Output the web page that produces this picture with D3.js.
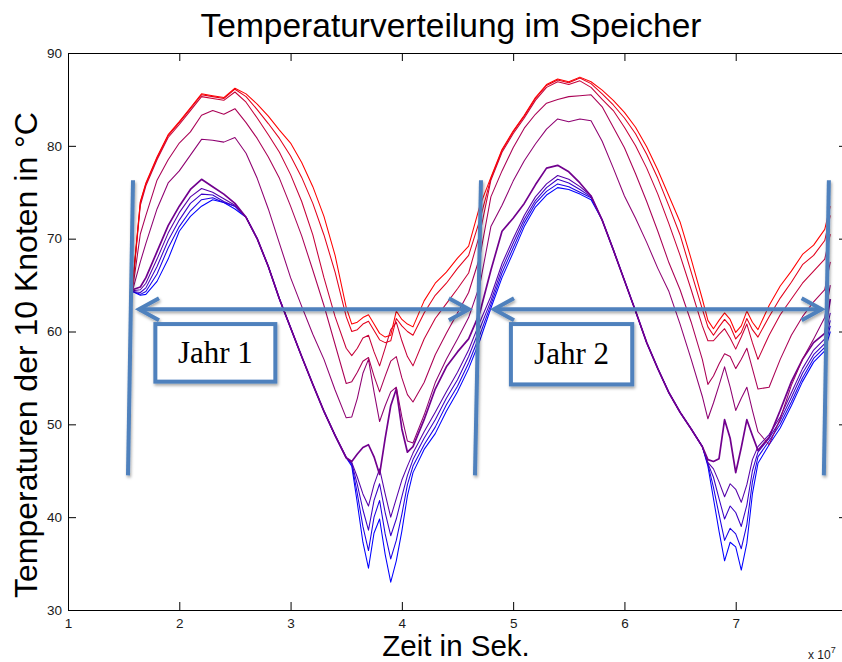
<!DOCTYPE html>
<html>
<head>
<meta charset="utf-8">
<script src="https://cdn.jsdelivr.net/npm/d3@7"></script>
<style>
  html, body { margin: 0; padding: 0; background: #ffffff; }
  svg { display: block; }
</style>
</head>
<body>
<svg id="chart" width="842" height="662"></svg>
<script>
// Simulation time (in units of 1e7 s) shared by all storage nodes
const timeE7 = [1.58, 1.65, 1.7, 1.8, 1.9, 2.0, 2.1, 2.2, 2.3, 2.4, 2.5, 2.6, 2.7, 2.8, 2.9, 3.0, 3.1, 3.2, 3.3, 3.4, 3.5,
  3.55, 3.6, 3.65, 3.7, 3.75, 3.8, 3.85, 3.9, 3.95, 4.0, 4.05,
  4.1, 4.2, 4.3, 4.4, 4.5, 4.6, 4.7, 4.8, 4.9, 5.0, 5.1, 5.2, 5.3, 5.4, 5.5, 5.6, 5.7, 5.8, 5.9, 6.0, 6.1, 6.2, 6.3, 6.4, 6.5, 6.6, 6.7,
  6.75, 6.8, 6.85, 6.9, 6.95, 7.0, 7.05, 7.1, 7.15,
  7.2, 7.3, 7.4, 7.5, 7.6, 7.7, 7.8, 7.85];

// Node temperatures in °C, node 1 = top of the tank, node 10 = bottom
const node1 = [65.0, 74.0, 76.0, 78.8, 81.2, 82.6, 84.1, 85.6, 85.4, 85.2, 86.2, 85.6, 84.5, 83.2, 81.7, 80.3, 78.2, 75.6, 72.4, 68.2, 62.6,
  60.8, 61.0, 61.5, 61.8, 60.8, 59.8, 59.4, 59.6, 62.2, 61.3, 60.8,
  60.5, 63.3, 65.2, 66.4, 67.9, 69.2, 73.5, 76.6, 79.6, 81.6, 83.3, 85.2, 86.6, 87.2, 86.9, 87.4, 86.9, 86.0, 84.9, 83.6, 82.0, 79.9, 77.4, 74.6, 71.8, 67.8, 63.5,
  61.2, 60.3, 61.2, 62.0, 61.3, 59.9, 60.6, 62.2, 61.0,
  60.2, 62.8, 64.9, 66.5, 68.3, 69.3, 71.0, 73.5];
const node2 = [64.9, 73.9, 75.9, 78.7, 81.1, 82.5, 84.0, 85.5, 85.3, 85.1, 86.1, 85.3, 83.9, 82.4, 80.8, 78.9, 76.6, 73.8, 70.4, 66.4, 61.6,
  60.0, 60.2, 60.8, 61.1, 60.1, 59.1, 58.8, 59.0, 61.4, 60.6, 60.0,
  59.6, 62.0, 63.9, 65.2, 66.8, 68.2, 72.0, 76.5, 79.5, 81.5, 83.2, 85.1, 86.5, 87.1, 86.8, 87.3, 86.7, 85.6, 84.4, 83.0, 81.3, 79.1, 76.5, 73.5, 70.4, 66.4, 62.4,
  60.5, 59.6, 60.5, 61.3, 60.6, 59.2, 59.9, 61.4, 60.2,
  59.4, 61.6, 63.6, 65.3, 67.2, 68.2, 69.8, 72.5];
const node3 = [64.8, 73.6, 75.7, 78.5, 80.9, 82.3, 83.8, 85.3, 85.1, 84.9, 85.8, 84.7, 83.0, 81.2, 79.3, 76.9, 74.0, 70.4, 65.8, 61.6, 58.2,
  57.4, 58.2, 59.3, 59.6, 57.8, 56.3, 58.2, 60.2, 61.0, 59.0, 57.3,
  56.3, 59.2, 61.4, 63.0, 64.6, 66.3, 70.5, 76.3, 79.3, 81.3, 83.0, 84.9, 86.3, 86.9, 86.6, 87.0, 86.3, 85.0, 83.8, 82.0, 80.0, 77.6, 74.8, 71.6, 68.2, 64.5, 60.6,
  59.0, 59.0, 59.7, 60.3, 59.3, 58.1, 59.4, 60.8, 58.8,
  57.0, 59.6, 61.8, 63.5, 65.2, 66.5, 67.8, 70.5];
const node4 = [64.5, 70.5, 72.5, 76.3, 78.5, 80.3, 81.5, 83.3, 83.8, 83.4, 84.0, 82.5, 80.8, 78.8, 76.5, 73.5, 70.3, 66.6, 62.8, 58.6, 54.4,
  54.6, 55.6, 56.8, 57.2, 55.2, 53.5, 55.2, 56.8, 57.3, 55.0, 53.2,
  52.4, 54.5, 57.5, 59.8, 62.0, 64.2, 68.0, 74.5, 77.3, 79.8, 81.9, 83.4, 84.6, 85.0, 85.3, 85.4, 85.5, 84.2, 82.0, 79.8, 77.0, 74.0, 70.8, 67.4, 64.5, 61.0, 57.0,
  54.3, 55.2, 56.5, 57.6, 57.3, 56.0, 57.0, 58.2, 56.0,
  53.8, 54.0, 57.0, 59.6, 61.6, 63.2, 64.5, 67.5];
const node5 = [64.4, 67.5, 69.5, 73.2, 76.0, 77.3, 79.0, 80.7, 80.6, 80.4, 80.9, 79.2, 76.5, 73.2, 69.5, 65.8, 62.7, 59.7, 57.0, 53.7, 50.7,
  50.8, 52.8, 55.5, 57.0, 53.5, 50.3, 52.0, 53.5, 54.0, 50.8, 48.2,
  48.0, 51.0, 54.5, 57.0, 59.2, 61.5, 65.0, 71.3, 73.6, 76.2, 78.4, 80.2, 81.8, 82.9, 82.6, 82.9, 82.7, 80.5, 77.6, 74.6, 72.2, 69.6, 66.8, 64.3, 60.8, 57.0, 53.0,
  50.6, 52.3, 54.2, 56.2, 54.0, 51.5, 52.8, 54.0, 51.5,
  49.2, 47.8, 50.6, 54.2, 57.0, 59.2, 61.5, 65.0];
const node6 = [64.5, 64.8, 65.8, 68.6, 71.4, 73.5, 75.3, 76.4, 75.6, 74.8, 73.8, 72.3, 70.0, 67.0, 63.5, 60.4, 57.3, 54.3, 51.4, 48.8, 46.4,
  46.0, 46.8, 47.5, 47.8, 46.5, 44.6, 48.5, 52.0, 53.8, 49.5, 47.0,
  47.6, 50.5, 53.8, 56.2, 57.8, 59.2, 62.0, 66.6, 70.8, 72.2, 73.8, 75.8, 77.6, 77.9, 77.2, 76.0, 74.6, 72.0, 68.8, 65.5, 62.2, 58.8, 56.0, 53.4, 51.3, 49.5, 47.6,
  46.2, 46.0, 46.3, 50.5, 48.5, 44.8, 47.5, 50.5, 48.8,
  47.2, 48.6, 51.5, 54.6, 57.0, 58.8, 59.8, 63.5];
const node7 = [64.4, 64.5, 65.2, 67.8, 70.6, 72.8, 74.5, 75.4, 75.0, 74.3, 73.6, 72.3, 70.0, 67.0, 63.5, 60.4, 57.3, 54.3, 51.4, 48.8, 46.4,
  45.9, 44.3, 42.5, 41.2, 43.5, 45.2, 42.5, 40.0, 42.0, 44.0, 45.5,
  46.9, 49.2, 51.3, 53.5, 55.6, 58.0, 61.0, 63.8, 67.3, 70.0, 72.5, 74.5, 75.9, 76.8, 76.4, 75.6, 74.6, 72.0, 68.8, 65.5, 62.2, 58.8, 56.0, 53.4, 51.3, 49.5, 47.6,
  45.9, 45.2, 43.8, 42.2, 43.6, 43.0, 41.6, 43.5, 46.2,
  47.6, 48.9, 50.8, 53.4, 56.0, 58.0, 59.2, 62.0];
const node8 = [64.3, 64.2, 64.7, 67.0, 69.8, 72.0, 73.8, 74.8, 74.7, 74.0, 73.5, 72.3, 70.0, 67.0, 63.5, 60.4, 57.3, 54.3, 51.4, 48.8, 46.4,
  45.8, 43.5, 40.8, 38.6, 41.8, 43.6, 40.5, 38.0, 39.8, 42.2, 44.5,
  46.2, 48.5, 50.5, 52.8, 54.8, 57.3, 60.3, 63.3, 66.8, 69.5, 72.1, 74.1, 75.5, 76.4, 76.0, 75.3, 74.5, 72.0, 68.8, 65.5, 62.2, 58.8, 56.0, 53.4, 51.3, 49.5, 47.6,
  45.8, 44.3, 42.0, 39.8, 41.2, 40.5, 39.0, 41.3, 45.0,
  47.0, 48.5, 50.4, 52.9, 55.5, 57.5, 58.7, 61.2];
const node9 = [64.3, 64.0, 64.3, 66.2, 69.0, 71.3, 73.0, 74.2, 74.4, 73.9, 73.5, 72.3, 70.0, 67.0, 63.5, 60.4, 57.3, 54.3, 51.4, 48.8, 46.4,
  45.7, 42.5, 39.0, 36.4, 40.0, 41.8, 38.2, 35.5, 37.5, 40.3, 43.5,
  45.5, 47.8, 49.7, 52.1, 54.1, 56.6, 59.6, 62.9, 66.3, 69.0, 71.7, 73.8, 75.1, 75.9, 75.6, 75.0, 74.4, 72.0, 68.8, 65.5, 62.2, 58.8, 56.0, 53.4, 51.3, 49.5, 47.6,
  45.7, 43.2, 40.3, 37.5, 38.8, 38.2, 36.6, 39.2, 43.8,
  46.5, 48.2, 50.0, 52.4, 55.0, 57.1, 58.3, 60.6];
const node10 = [64.3, 63.9, 64.0, 65.4, 67.8, 70.8, 72.4, 73.5, 74.2, 73.9, 73.2, 72.3, 70.0, 67.0, 63.5, 60.4, 57.3, 54.3, 51.4, 48.8, 46.4,
  45.5, 41.5, 37.3, 34.5, 38.3, 39.8, 36.0, 33.0, 35.3, 38.5, 42.3,
  44.8, 47.3, 49.0, 51.4, 53.5, 56.0, 59.0, 62.5, 65.8, 68.5, 71.3, 73.4, 74.7, 75.5, 75.3, 74.8, 74.2, 72.0, 68.8, 65.5, 62.2, 58.8, 56.0, 53.4, 51.3, 49.5, 47.6,
  45.5, 42.0, 38.5, 35.3, 37.3, 36.8, 34.3, 37.2, 42.5,
  45.8, 47.8, 49.6, 52.0, 54.6, 56.7, 57.9, 60.0];

const nodeSeries = [node1, node2, node3, node4, node5, node6, node7, node8, node9, node10];
// Red (top node) fading to blue (bottom node)
const nodeColors = ["#ff0000", "#e3001c", "#c60039", "#aa0055", "#8e0071",
                    "#71008e", "#5500aa", "#3900c6", "#1c00e3", "#0000ff"];

const xTicks = [1, 2, 3, 4, 5, 6, 7, 8];
const yTicks = [30, 40, 50, 60, 70, 80, 90];

// Year boundaries and markers, in axis units (time 1e7 s, temperature °C)
const yearMarkers = [
  { top: [1.584, 76.3], bottom: [1.539, 44.5] },
  { top: [4.711, 76.3], bottom: [4.657, 44.5] },
  { top: [7.837, 76.3], bottom: [7.792, 44.5] }
];
const yearArrows = [
  { from: 1.62, to: 4.62, temp: 62.4 },
  { from: 4.81, to: 7.79, temp: 62.4 }
];
const yearBoxes = [
  { label: "Jahr 1", x0: 1.785, x1: 2.863, t0: 60.8, t1: 54.6 },
  { label: "Jahr 2", x0: 4.98, x1: 6.07, t0: 60.8, t1: 54.3 }
];

const svg = d3.select("#chart");

const x = d3.scaleLinear().domain([1, 8]).range([68, 847]);
const y = d3.scaleLinear().domain([30, 90]).range([610, 53]);

const tickFont = "'Liberation Sans', Arial, Helvetica, sans-serif";

// ----- axes box with inward ticks -----
function styleAxis(g) {
  g.selectAll("path.domain").attr("stroke", "#000").attr("stroke-width", 1);
  g.selectAll(".tick line").attr("stroke", "#000").attr("stroke-width", 1);
  g.selectAll(".tick text").attr("fill", "#1a1a1a")
    .style("font-family", tickFont).style("font-size", "13.5px");
}

svg.append("g")
  .attr("transform", `translate(0,${y(30)})`)
  .call(d3.axisBottom(x).tickValues(xTicks).tickFormat(d3.format("d"))
    .tickSizeInner(-8).tickSizeOuter(0).tickPadding(8))
  .call(styleAxis);

svg.append("g")
  .attr("transform", `translate(0,${y(90)})`)
  .call(d3.axisTop(x).tickValues(xTicks).tickFormat(() => "")
    .tickSizeInner(-8).tickSizeOuter(0))
  .call(styleAxis);

svg.append("g")
  .attr("transform", `translate(${x(1)},0)`)
  .call(d3.axisLeft(y).tickValues(yTicks).tickFormat(d3.format("d"))
    .tickSizeInner(-8).tickSizeOuter(0).tickPadding(6))
  .call(styleAxis);

svg.append("g")
  .attr("transform", `translate(${x(8)},0)`)
  .call(d3.axisRight(y).tickValues(yTicks).tickFormat(() => "")
    .tickSizeInner(-8).tickSizeOuter(0))
  .call(styleAxis);

// ----- node temperature lines (bottom node first so the top node is on top) -----
const line = d3.line()
  .x((d, i) => x(timeE7[i]))
  .y(d => y(d))
  .curve(d3.curveLinear);

const lineGroup = svg.append("g");
for (let k = nodeSeries.length - 1; k >= 0; k--) {
  lineGroup.append("path")
    .datum(nodeSeries[k])
    .attr("fill", "none")
    .attr("stroke", nodeColors[k])
    .attr("stroke-width", k === 5 ? 1.7 : 1.05)
    .attr("stroke-linejoin", "round")
    .attr("d", line);
}

// ----- titles -----
const labelFont = "'Liberation Sans', Arial, Helvetica, sans-serif";

svg.append("text")
  .attr("x", 451).attr("y", 37)
  .attr("text-anchor", "middle")
  .style("font-family", labelFont).style("font-size", "33.5px")
  .attr("fill", "#000")
  .text("Temperaturverteilung im Speicher");

svg.append("text")
  .attr("x", 456).attr("y", 656)
  .attr("text-anchor", "middle")
  .style("font-family", labelFont).style("font-size", "29.5px")
  .attr("fill", "#000")
  .text("Zeit in Sek.");

svg.append("text")
  .attr("transform", "translate(37,355) rotate(-90)")
  .attr("text-anchor", "middle")
  .style("font-family", labelFont).style("font-size", "32px")
  .attr("fill", "#000")
  .text("Temperaturen der 10 Knoten in °C");

const expo = svg.append("text")
  .attr("x", 808).attr("y", 659)
  .style("font-family", tickFont).style("font-size", "12px")
  .attr("fill", "#1a1a1a");
expo.append("tspan").text("x 10");
expo.append("tspan").attr("dy", -6).style("font-size", "9px").text("7");

// ----- year annotations -----
const defs = svg.append("defs");
const shadow = defs.append("filter").attr("id", "shadow")
  .attr("x", "-20%").attr("y", "-20%").attr("width", "140%").attr("height", "160%");
shadow.append("feDropShadow")
  .attr("dx", 1).attr("dy", 2).attr("stdDeviation", 1.4)
  .attr("flood-color", "#000").attr("flood-opacity", 0.35);

const annoColor = "#4f81bd";
const anno = svg.append("g").attr("filter", "url(#shadow)");

yearMarkers.forEach(m => {
  anno.append("line")
    .attr("x1", x(m.top[0])).attr("y1", y(m.top[1]))
    .attr("x2", x(m.bottom[0])).attr("y2", y(m.bottom[1]))
    .attr("stroke", annoColor).attr("stroke-width", 4);
});

const headLen = 22, headHalf = 11;
yearArrows.forEach(a => {
  const xa = x(a.from), xb = x(a.to), ya = y(a.temp);
  anno.append("line")
    .attr("x1", xa + 2).attr("y1", ya).attr("x2", xb - 2).attr("y2", ya)
    .attr("stroke", annoColor).attr("stroke-width", 4);
  anno.append("polyline")
    .attr("points", `${xa + headLen},${ya - headHalf} ${xa + 2},${ya} ${xa + headLen},${ya + headHalf}`)
    .attr("fill", "none").attr("stroke", annoColor).attr("stroke-width", 4)
    .attr("stroke-linejoin", "miter");
  anno.append("polyline")
    .attr("points", `${xb - headLen},${ya - headHalf} ${xb - 2},${ya} ${xb - headLen},${ya + headHalf}`)
    .attr("fill", "none").attr("stroke", annoColor).attr("stroke-width", 4)
    .attr("stroke-linejoin", "miter");
});

yearBoxes.forEach(b => {
  const bx = x(b.x0), bw = x(b.x1) - x(b.x0);
  const by = y(b.t0), bh = y(b.t1) - y(b.t0);
  anno.append("rect")
    .attr("x", bx).attr("y", by).attr("width", bw).attr("height", bh)
    .attr("fill", "#ffffff").attr("stroke", annoColor).attr("stroke-width", 4);
  svg.append("text")
    .attr("x", bx + bw / 2).attr("y", by + bh / 2 + 10)
    .attr("text-anchor", "middle")
    .style("font-family", "'Liberation Serif', 'Times New Roman', serif")
    .style("font-size", "31px")
    .attr("fill", "#000")
    .text(b.label);
});
</script>
</body>
</html>
